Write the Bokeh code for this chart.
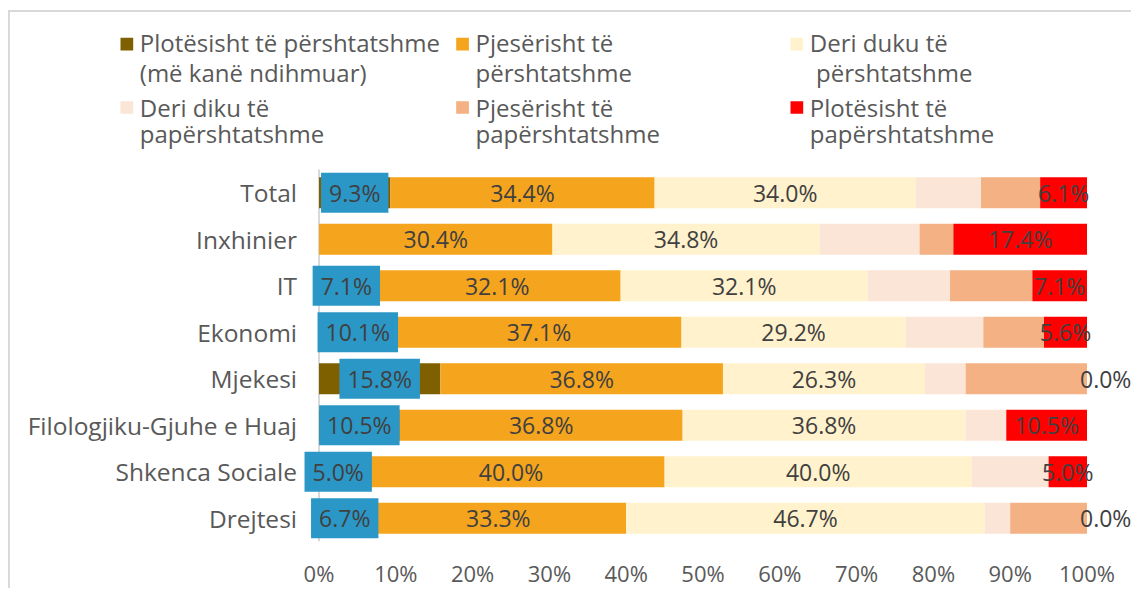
import numpy as np
from bokeh.plotting import figure
from bokeh.models import ColumnDataSource, Range1d, FixedTicker
from bokeh.embed import file_html
from bokeh.resources import INLINE
from bokeh.core.properties import value

# ---------------- data ----------------
categories = ["Total", "Inxhinier", "IT", "Ekonomi", "Mjekesi",
              "Filologjiku-Gjuhe e Huaj", "Shkenca Sociale", "Drejtesi"]

series_names = [
    "Plotësisht të përshtatshme\n(më kanë ndihmuar)",
    "Pjesërisht të\npërshtatshme",
    "Deri duku të\n përshtatshme",
    "Deri diku të\npapërshtatshme",
    "Pjesërisht të\npapërshtatshme",
    "Plotësisht të\npapërshtatshme",
]

plotesisht_pershtatshme = [9.3, 0.0, 7.1, 10.1, 15.8, 10.5, 5.0, 6.7]
pjeserisht_pershtatshme = [34.4, 30.4, 32.1, 37.1, 36.8, 36.8, 40.0, 33.3]
deri_duku_pershtatshme = [34.0, 34.8, 32.1, 29.2, 26.3, 36.8, 40.0, 46.7]
deri_diku_papershtatshme = [8.5, 13.0, 10.7, 10.1, 5.3, 5.3, 10.0, 3.3]
pjeserisht_papershtatshme = [7.7, 4.4, 10.7, 7.9, 15.8, 0.0, 0.0, 10.0]
plotesisht_papershtatshme = [6.1, 17.4, 7.1, 5.6, 0.0, 10.5, 5.0, 0.0]

x_ticks = [0, 10, 20, 30, 40, 50, 60, 70, 80, 90, 100]
x_tick_labels = ["0%", "10%", "20%", "30%", "40%", "50%", "60%", "70%", "80%", "90%", "100%"]

colors = ["#7F6000", "#F5A41D", "#FFF2CC", "#FBE5D6", "#F4B183", "#FF0000"]
label_bg = "#2B97C6"

# ---------------- layout / styling ----------------
FONT = "Open Sans"
AXIS_TXT = "#595959"
LABEL_TXT = "#404040"
W, H = 1123, 578
CANVAS_X, CANVAS_Y = 10, 12          # page position of the canvas (margin + border)
MB_BOTTOM = 49
PX_PER_PCT = 7.68                    # horizontal scale
ZERO_PAGE_X = 318.5                  # page x of 0%
ROW_PX = 46.5                        # vertical pitch of the categories

frame_bottom_page = CANVAS_Y + H - MB_BOTTOM
frame_h = H - MB_BOTTOM
n = len(categories)
x_start = -(ZERO_PAGE_X - CANVAS_X) / PX_PER_PCT
x_end = x_start + W / PX_PER_PCT
y_bottom = n - 0.5
y_top = y_bottom - frame_h / ROW_PX

series = [plotesisht_pershtatshme, pjeserisht_pershtatshme, deri_duku_pershtatshme,
          deri_diku_papershtatshme, pjeserisht_papershtatshme, plotesisht_papershtatshme]
vals = np.array(series, dtype=float)
norm = vals / vals.sum(axis=0) * 100.0   # 100% stacked
right = np.cumsum(norm, axis=0)
left = right - norm
mid = (left + right) / 2.0
rows = list(range(n))

p = figure(width=W, height=H,
           x_range=Range1d(x_start, x_end), y_range=Range1d(y_bottom, y_top),
           output_backend="svg", toolbar_location=None,
           min_border_left=0, min_border_right=0, min_border_top=0,
           min_border_bottom=MB_BOTTOM, outline_line_color=None,
           styles={"margin-left": "8px", "margin-top": "10px",
                   "border-left": "2px solid #D9D9D9", "border-top": "2px solid #D9D9D9"})
p.extra_x_ranges = {"px": Range1d(CANVAS_X, CANVAS_X + W)}
p.extra_y_ranges = {"px": Range1d(frame_bottom_page, CANVAS_Y)}

# vertical category axis line at 0%
p.segment(x0=[0], y0=[-0.5], x1=[0], y1=[n - 0.5], line_color="#D9D9D9", line_width=2)

for i in range(len(series)):
    src = ColumnDataSource(dict(y=rows, left=left[i], right=right[i]))
    p.hbar(y="y", left="left", right="right", height=0.67, fill_color=colors[i],
           line_color=None, source=src)


def fmt(v):
    return [f"{x:.1f}%" for x in v]


common = dict(text_font=value(FONT), text_font_size="23px", text_color=LABEL_TXT,
              text_baseline="middle")

# first series: labels in blue boxes
m0 = vals[0] > 0
src0 = ColumnDataSource(dict(y=[r for r, m in zip(rows, m0) if m], x=mid[0][m0],
                             t=fmt(vals[0][m0])))
p.text(x="x", y="y", text="t", source=src0, text_align="center",
       background_fill_color=label_bg, padding=dict(x=8, y=4), **common)

# second and third series
for i in (1, 2):
    s = ColumnDataSource(dict(y=rows, x=mid[i], t=fmt(vals[i])))
    p.text(x="x", y="y", text="t", source=s, text_align="center", **common)

# last series
m5 = vals[5] > 0
s5a = ColumnDataSource(dict(y=[r for r, m in zip(rows, m5) if m], x=mid[5][m5],
                            t=fmt(vals[5][m5])))
p.text(x="x", y="y", text="t", source=s5a, text_align="center", **common)
z5 = ~m5
ZERO_SHIFT_PX = 7
s5b = ColumnDataSource(dict(y=[r for r, m in zip(rows, z5) if m],
                            x=right[5][z5] - ZERO_SHIFT_PX / PX_PER_PCT,
                            t=fmt(vals[5][z5])))
p.text(x="x", y="y", text="t", source=s5b, text_align="left", **common)

# ---------------- axes ----------------
p.grid.visible = False
p.xaxis.ticker = FixedTicker(ticks=x_ticks)
p.xaxis.major_label_overrides = {t: l for t, l in zip(x_ticks, x_tick_labels)}
p.yaxis.ticker = FixedTicker(ticks=rows)
p.yaxis.major_label_overrides = {r: c for r, c in zip(rows, categories)}
p.yaxis.fixed_location = 0
for ax in (p.xaxis, p.yaxis):
    ax.axis_line_color = None
    ax.major_tick_line_color = None
    ax.minor_tick_line_color = None
    ax.major_tick_out = 0
    ax.major_tick_in = 0
    ax.major_label_text_font = FONT
    ax.major_label_text_color = AXIS_TXT
p.xaxis.major_label_text_font_size = "22px"
p.xaxis.major_label_standoff = 16
p.yaxis.major_label_text_font_size = "24.5px"
p.yaxis.major_label_standoff = 22

# ---------------- legend (page-pixel coordinates via extra ranges) ----------------
sw_left = [120, 455.7, 790]
row_center = [43.7, 107.0]
line_baselines = [[50.7, 80.5], [116.0, 142.0]]
BASELINE_FIX = 9          # renderer draws "alphabetic" text slightly lower
sw = 12.7
sx, sy, sc, tx, ty, tt = [], [], [], [], [], []
for k, name in enumerate(series_names):
    r, c = divmod(k, 3)
    sx.append(sw_left[c] + sw / 2)
    sy.append(row_center[r])
    sc.append(colors[k])
    for j, line in enumerate(name.split("\n")):
        stripped = line.lstrip(" ")
        line_out = "\u00a0" * (len(line) - len(stripped)) + stripped
        tx.append(sw_left[c] + 19.3)
        ty.append(line_baselines[r][j] - BASELINE_FIX)
        tt.append(line_out)
p.rect(x="x", y="y", width=sw, height=sw, fill_color="c", line_color=None,
       source=ColumnDataSource(dict(x=sx, y=sy, c=sc)),
       x_range_name="px", y_range_name="px")
p.text(x="x", y="y", text="t", source=ColumnDataSource(dict(x=tx, y=ty, t=tt)),
       x_range_name="px", y_range_name="px",
       text_font=value(FONT), text_font_size="24px", text_color=AXIS_TXT,
       text_align="left", text_baseline="alphabetic")

open("out.html", "w").write(file_html(p, INLINE))
